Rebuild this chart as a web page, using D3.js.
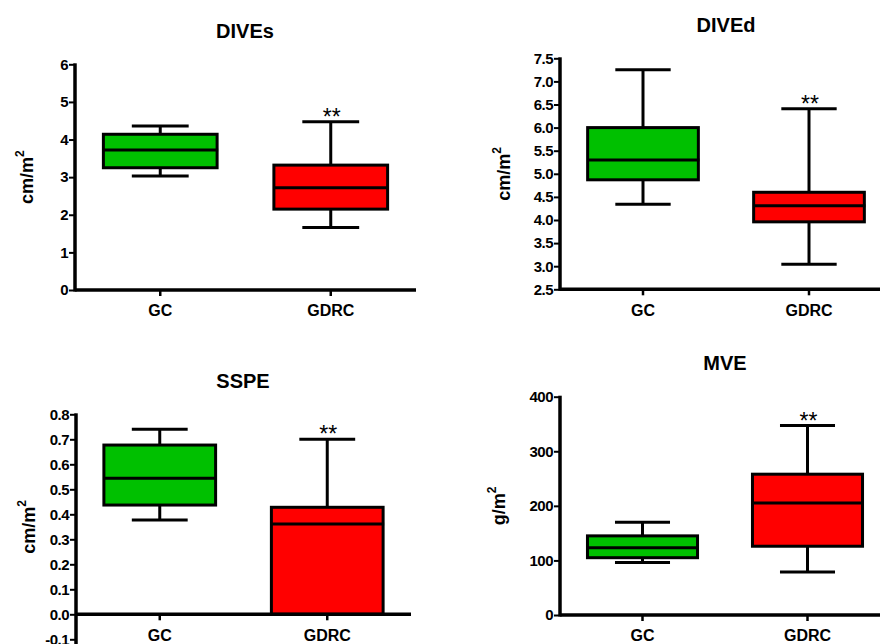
<!DOCTYPE html>
<html>
<head>
<meta charset="utf-8">
<script src="https://cdn.jsdelivr.net/npm/d3@7/dist/d3.min.js"></script>
<style>
  html, body { margin: 0; padding: 0; background: #fff; }
  svg { display: block; font-family: "Liberation Sans", Arial, sans-serif; }
</style>
</head>
<body>
<svg id="chart" width="880" height="644"></svg>
<script>
// ---- data (box stats: min, Q1, median, Q3, max) ----
const groups = ["GC", "GDRC"];
const titles = ["DIVEs", "DIVEd", "SSPE", "MVE"];
const units = ["cm/m", "cm/m", "cm/m", "g/m"];

const divesGC   = [3.03, 3.25, 3.72, 4.14, 4.36];
const divesGDRC = [1.66, 2.15, 2.72, 3.32, 4.47];
const divedGC   = [4.34, 4.87, 5.30, 6.00, 7.25];
const divedGDRC = [3.04, 3.96, 4.31, 4.60, 6.41];
const sspeGC    = [0.377, 0.437, 0.544, 0.677, 0.74];
const sspeGDRC  = [0.0, 0.0, 0.361, 0.428, 0.70];
const mveGC     = [96, 105, 123, 145, 170];
const mveGDRC   = [79, 126, 205, 258, 347];

const divesTicks = [0, 1, 2, 3, 4, 5, 6];
const divesTickLabels = ["0", "1", "2", "3", "4", "5", "6"];
const divedTicks = [2.5, 3.0, 3.5, 4.0, 4.5, 5.0, 5.5, 6.0, 6.5, 7.0, 7.5];
const divedTickLabels = ["2.5", "3.0", "3.5", "4.0", "4.5", "5.0", "5.5", "6.0", "6.5", "7.0", "7.5"];
const sspeTicks = [-0.1, 0.0, 0.1, 0.2, 0.3, 0.4, 0.5, 0.6, 0.7, 0.8];
const sspeTickLabels = ["-0.1", "0.0", "0.1", "0.2", "0.3", "0.4", "0.5", "0.6", "0.7", "0.8"];
const mveTicks = [0, 100, 200, 300, 400];
const mveTickLabels = ["0", "100", "200", "300", "400"];

const significance = ["", "**"];
const colors = ["#00c000", "#ff0000"];

// ---- layout ----
const layout = [
  { ax: 75,  right: 416, top: 64.3,  bottom: 290,   zero: false, tx: 245, ty: 38,  lx: 33 },
  { ax: 560, right: 892, top: 58.3,  bottom: 289.3, zero: false, tx: 726, ty: 32,  lx: 510 },
  { ax: 76,  right: 411, top: 414.3, bottom: 639.3, zero: true,  tx: 243, ty: 388, lx: 35 },
  { ax: 560, right: 890, top: 396.7, bottom: 615,   zero: false, tx: 725, ty: 370, lx: 505 }
];

const panels = [
  { data: [divesGC, divesGDRC], ticks: divesTicks, labels: divesTickLabels },
  { data: [divedGC, divedGDRC], ticks: divedTicks, labels: divedTickLabels },
  { data: [sspeGC, sspeGDRC],   ticks: sspeTicks,  labels: sspeTickLabels },
  { data: [mveGC, mveGDRC],     ticks: mveTicks,   labels: mveTickLabels }
];

const svg = d3.select("#chart");

panels.forEach((p, i) => {
  const L = layout[i];
  const g = svg.append("g");
  const ticks = p.ticks;
  const y = d3.scaleLinear()
    .domain([ticks[0], ticks[ticks.length - 1]])
    .range([L.bottom, L.top]);
  const x = d3.scaleBand().domain(groups).range([L.ax, L.right]).padding(0);
  const bw = x.bandwidth();
  const boxW = bw * 0.667;
  const capW = boxW * 0.5;
  const xAxisY = L.zero ? y(0) : L.bottom;

  // title
  g.append("text")
    .attr("x", L.tx).attr("y", L.ty)
    .attr("text-anchor", "middle")
    .attr("font-size", 20).attr("font-weight", "bold")
    .text(titles[i]);

  // y label
  const lab = g.append("text")
    .attr("transform", `translate(${L.lx},${(L.top + L.bottom) / 2}) rotate(-90)`)
    .attr("text-anchor", "middle")
    .attr("font-size", 18).attr("font-weight", "bold");
  lab.append("tspan").text(units[i]);
  lab.append("tspan").attr("font-size", 12).attr("dy", -9).text("2");

  // boxes
  groups.forEach((grp, j) => {
    const s = p.data[j];
    const cx = x(grp) + bw / 2;
    const bg = g.append("g");
    // whisker vertical
    bg.append("line")
      .attr("x1", cx).attr("x2", cx)
      .attr("y1", y(s[0])).attr("y2", y(s[4]))
      .attr("stroke", "#000").attr("stroke-width", 3);
    // caps
    [s[0], s[4]].forEach(v => {
      bg.append("line")
        .attr("x1", cx - capW / 2).attr("x2", cx + capW / 2)
        .attr("y1", y(v)).attr("y2", y(v))
        .attr("stroke", "#000").attr("stroke-width", 3);
    });
    // box
    bg.append("rect")
      .attr("x", cx - boxW / 2).attr("width", boxW)
      .attr("y", y(s[3])).attr("height", y(s[1]) - y(s[3]))
      .attr("fill", colors[j]).attr("stroke", "#000").attr("stroke-width", 3);
    // median
    bg.append("line")
      .attr("x1", cx - boxW / 2).attr("x2", cx + boxW / 2 + 1)
      .attr("y1", y(s[2])).attr("y2", y(s[2]))
      .attr("stroke", "#000").attr("stroke-width", 3);
    // significance
    if (significance[j]) {
      bg.append("text")
        .attr("x", cx + 1).attr("y", y(s[4]) + 3)
        .attr("text-anchor", "middle")
        .attr("font-size", 23).attr("letter-spacing", 0)
        .text(significance[j]);
    }
  });

  // y axis
  const yAxis = d3.axisLeft(y)
    .tickValues(ticks)
    .tickFormat((d, k) => p.labels[k])
    .tickSizeOuter(0).tickSizeInner(6).tickPadding(1);
  const ya = g.append("g").attr("transform", `translate(${L.ax},0)`).call(yAxis);
  ya.select(".domain").remove();
  ya.selectAll(".tick line").attr("stroke", "#000").attr("stroke-width", 2);
  ya.selectAll(".tick text")
    .attr("font-size", 15).attr("font-weight", "bold")
    .attr("font-family", "'Liberation Sans', Arial, sans-serif")
    .attr("fill", "#000").attr("letter-spacing", -0.5);
  g.append("line")
    .attr("x1", L.ax).attr("x2", L.ax)
    .attr("y1", L.top - 1).attr("y2", L.zero ? 650 : L.bottom + 1.5)
    .attr("stroke", "#000").attr("stroke-width", 3.5);

  // x axis
  const xAxis = d3.axisBottom(x).tickSizeOuter(0).tickSizeInner(6).tickPadding(9);
  const xa = g.append("g").attr("transform", `translate(0,${xAxisY})`).call(xAxis);
  xa.select(".domain").remove();
  xa.selectAll(".tick line").attr("stroke", "#000").attr("stroke-width", 2.5);
  xa.selectAll(".tick text")
    .attr("font-size", 16).attr("font-weight", "bold")
    .attr("font-family", "'Liberation Sans', Arial, sans-serif")
    .attr("fill", "#000");
  g.append("line")
    .attr("x1", L.ax).attr("x2", L.right)
    .attr("y1", xAxisY).attr("y2", xAxisY)
    .attr("stroke", "#000").attr("stroke-width", 3.5);
});
</script>
</body>
</html>
